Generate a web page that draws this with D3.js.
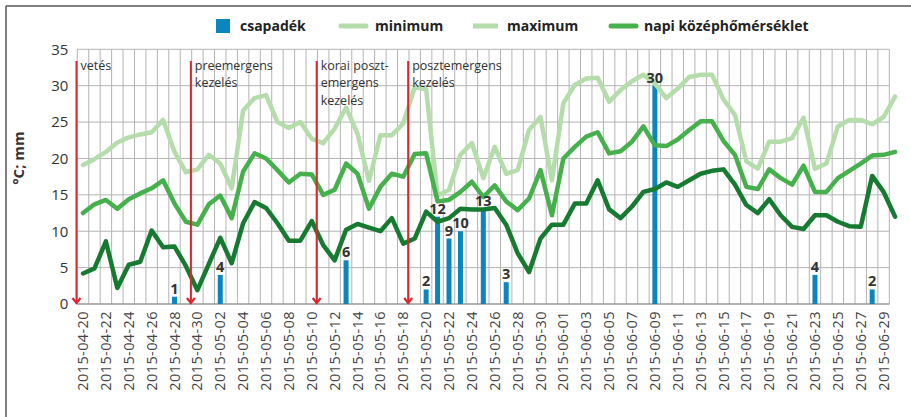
<!DOCTYPE html>
<html><head><meta charset="utf-8">
<script src="https://cdn.jsdelivr.net/npm/d3@7"></script>
<style>body{margin:0;background:#fff}svg{display:block}text{font-family:"Open Sans","Noto Sans",sans-serif}</style>
</head><body><svg id="c" width="911" height="417"></svg>
<script>
const dates = ["2015-04-20","2015-04-21","2015-04-22","2015-04-23","2015-04-24","2015-04-25","2015-04-26","2015-04-27","2015-04-28","2015-04-29","2015-04-30",
"2015-05-01","2015-05-02","2015-05-03","2015-05-04","2015-05-05","2015-05-06","2015-05-07","2015-05-08","2015-05-09","2015-05-10","2015-05-11","2015-05-12","2015-05-13","2015-05-14","2015-05-15","2015-05-16","2015-05-17","2015-05-18","2015-05-19","2015-05-20","2015-05-21","2015-05-22","2015-05-23","2015-05-24","2015-05-25","2015-05-26","2015-05-27","2015-05-28","2015-05-29","2015-05-30","2015-05-31",
"2015-06-01","2015-06-02","2015-06-03","2015-06-04","2015-06-05","2015-06-06","2015-06-07","2015-06-08","2015-06-09","2015-06-10","2015-06-11","2015-06-12","2015-06-13","2015-06-14","2015-06-15","2015-06-16","2015-06-17","2015-06-18","2015-06-19","2015-06-20","2015-06-21","2015-06-22","2015-06-23","2015-06-24","2015-06-25","2015-06-26","2015-06-27","2015-06-28","2015-06-29","2015-06-30"];
const maximum = [19.1,19.9,20.9,22.2,22.9,23.3,23.6,25.3,20.9,18.1,18.5,20.5,19.3,15.9,26.6,28.3,28.7,25.0,24.2,25.0,22.7,22.1,24.1,27.0,23.4,16.9,23.2,23.2,24.8,29.8,29.5,14.9,15.7,20.5,22.1,17.3,21.6,17.9,18.4,23.9,25.7,17.0,27.6,30.1,31.0,31.1,27.8,29.4,30.6,31.5,30.3,28.3,29.6,31.2,31.5,31.5,28.1,26.0,19.6,18.6,22.3,22.3,22.8,25.6,18.6,19.3,24.4,25.3,25.3,24.7,25.7,28.5];
const kozep = [12.5,13.7,14.3,13.1,14.4,15.2,15.9,17.0,13.8,11.3,10.9,13.7,14.9,11.8,18.2,20.7,20.0,18.4,16.7,17.9,17.8,15.0,15.7,19.3,17.9,13.1,16.1,17.9,17.5,20.6,20.7,14.1,14.3,15.4,16.8,14.7,16.3,14.1,12.9,14.5,18.4,12.2,20.0,21.6,23.0,23.6,20.7,21.0,22.3,24.4,21.8,21.7,22.6,23.9,25.1,25.1,22.4,20.5,16.1,15.8,18.5,17.3,16.4,19.0,15.4,15.4,17.3,18.3,19.3,20.4,20.5,20.9];
const minimum = [4.2,4.9,8.6,2.2,5.4,5.8,10.1,7.8,7.9,5.2,1.9,5.5,9.1,5.6,11.1,14.0,13.2,11.1,8.7,8.7,11.4,8.1,6.0,10.2,11.0,10.5,10.0,11.8,8.3,9.0,12.7,11.3,11.8,13.1,13.0,13.0,13.2,10.9,7.0,4.4,9.0,10.9,10.9,13.8,13.8,17.0,13.0,11.8,13.4,15.4,15.8,16.7,16.1,17.0,17.9,18.3,18.5,16.4,13.6,12.5,14.4,12.2,10.6,10.3,12.2,12.2,11.3,10.7,10.6,17.6,15.4,12.0];
const csapadekDates = ["2015-04-28","2015-05-02","2015-05-13","2015-05-20","2015-05-21","2015-05-22","2015-05-23","2015-05-25","2015-05-27","2015-06-09","2015-06-23","2015-06-28"];
const csapadek = [1,4,6,2,12,9,10,13,3,30,4,2];
const yTicks = [0,5,10,15,20,25,30,35];
const tickDates = dates.filter((d,i)=> i%2===0 && i<71);
const eventDates = ["2015-04-20","2015-04-30","2015-05-11","2015-05-19"];
const eventLabels = [["vetés"],["preemergens","kezelés"],["korai poszt-","emergens","kezelés"],["posztemergens","kezelés"]];
const legendNames = ["csapadék","minimum","maximum","napi középhőmérséklet"];

const svg = d3.select("#c");
const X0 = 77.3, STEP = 11.437, NB = 71;
const x = d3.scaleBand().domain(dates).range([X0, X0 + dates.length*STEP]).padding(0);
const y = d3.scaleLinear().domain([0,35]).range([304, 49.3]);
const gridRight = X0 + NB*STEP;
const cx = d => x(d) + x.bandwidth()/2;

// frame
svg.append("line").attr("x1",6).attr("x2",911).attr("y1",6).attr("y2",6).attr("stroke","#555").attr("stroke-width",1.5);
svg.append("line").attr("x1",6).attr("x2",6).attr("y1",6).attr("y2",417).attr("stroke","#555").attr("stroke-width",1.5);

// grid
const g = svg.append("g");
g.selectAll("line.v").data(dates.slice(0, NB+1)).join("line")
  .attr("x1",d=>x(d)).attr("x2",d=>x(d)).attr("y1",y(35)).attr("y2",y(0))
  .attr("stroke","#b4b4b4").attr("stroke-width",1);
g.selectAll("line.h").data(yTicks).join("line")
  .attr("x1",X0).attr("x2",gridRight).attr("y1",d=>y(d)).attr("y2",d=>y(d))
  .attr("stroke",d=>d===0?"#999":"#b4b4b4").attr("stroke-width",d=>d===0?1.6:1);

// y axis labels
const ya = d3.axisLeft(y).tickValues(yTicks).tickSize(0).tickPadding(9);
svg.append("g").attr("transform",`translate(${X0},0)`).call(ya)
  .call(s=>s.select(".domain").remove())
  .call(s=>s.selectAll("text").attr("font-size",15).attr("fill","#333").attr("font-family","'Open Sans',sans-serif"));

// x axis labels
const xa = d3.axisBottom(x).tickValues(tickDates).tickSize(0).tickPadding(0);
svg.append("g").attr("transform",`translate(0,${y(0)})`).call(xa)
  .call(s=>s.select(".domain").remove())
  .call(s=>s.selectAll("text").attr("font-size",14.5).attr("fill","#444").attr("letter-spacing","0.4px")
    .attr("transform","rotate(-90)").attr("text-anchor","end").attr("dx","-7").attr("dy","0.35em").attr("x",0).attr("y",0)
    .attr("font-family","'Open Sans',sans-serif"));

// y title
svg.append("text").attr("transform","translate(24,158) rotate(-90)").attr("text-anchor","middle")
  .attr("font-size",15).attr("font-weight","bold").attr("fill","#333").text("°C; mm");

// bars
const BW = 5;
svg.append("g").selectAll("rect").data(csapadek).join("rect")
  .attr("x",(v,i)=>cx(csapadekDates[i]) - BW/2).attr("width",BW)
  .attr("y",v=>y(v)).attr("height",v=>y(0)-y(v)).attr("fill","#0a85be");

// lines
const line = d3.line().x((v,i)=>cx(dates[i])).y(v=>y(v)).curve(d3.curveLinear);
const series = [[maximum,"#b5dcab"],[kozep,"#45b04c"],[minimum,"#167a31"]];
series.forEach(([arr,col])=>{
  svg.append("path").attr("d",line(arr)).attr("fill","none").attr("stroke",col)
    .attr("stroke-width",4.5).attr("stroke-linejoin","round").attr("stroke-linecap","round");
});

// bar labels
svg.append("g").selectAll("text").data(csapadek).join("text")
  .attr("x",(v,i)=>cx(csapadekDates[i])).attr("y",v=>y(v)-3).attr("text-anchor","middle")
  .attr("font-size",14.5).attr("font-weight","bold").attr("fill","#333").text(v=>v);

// event arrows
const ev = svg.append("g");
eventDates.forEach((d,k)=>{
  const ex = x(d) - 0.8;
  ev.append("line").attr("x1",ex).attr("x2",ex).attr("y1",61).attr("y2",y(0)).attr("stroke","#d9272e").attr("stroke-width",2);
  ev.append("path").attr("d",`M${ex-4},${y(0)-6}L${ex},${y(0)-1}L${ex+4},${y(0)-6}`).attr("fill","none").attr("stroke","#d9272e").attr("stroke-width",2.2);
  eventLabels[k].forEach((t,j)=>{
    ev.append("text").attr("x",ex+4).attr("y",70+j*17.3).attr("font-size",12.5).attr("fill","#333").text(t);
  });
});

// legend
const lg = svg.append("g").attr("font-size",14).attr("font-weight","bold").attr("fill","#222");
lg.append("rect").attr("x",216).attr("y",19).attr("width",14).attr("height",14).attr("fill","#0a85be");
lg.append("text").attr("x",240).attr("y",31).text(legendNames[0]);
lg.append("line").attr("x1",341).attr("x2",366).attr("y1",26).attr("y2",26).attr("stroke","#b5dcab").attr("stroke-width",5).attr("stroke-linecap","round");
lg.append("text").attr("x",375).attr("y",31).text(legendNames[1]);
lg.append("rect").attr("x",473).attr("y",23.5).attr("width",25).attr("height",5).attr("fill","#b5dcab");
lg.append("text").attr("x",507).attr("y",31).text(legendNames[2]);
lg.append("line").attr("x1",611).attr("x2",636).attr("y1",26).attr("y2",26).attr("stroke","#45b04c").attr("stroke-width",5).attr("stroke-linecap","round");
lg.append("text").attr("x",644).attr("y",31).text(legendNames[3]);
</script></body></html>
